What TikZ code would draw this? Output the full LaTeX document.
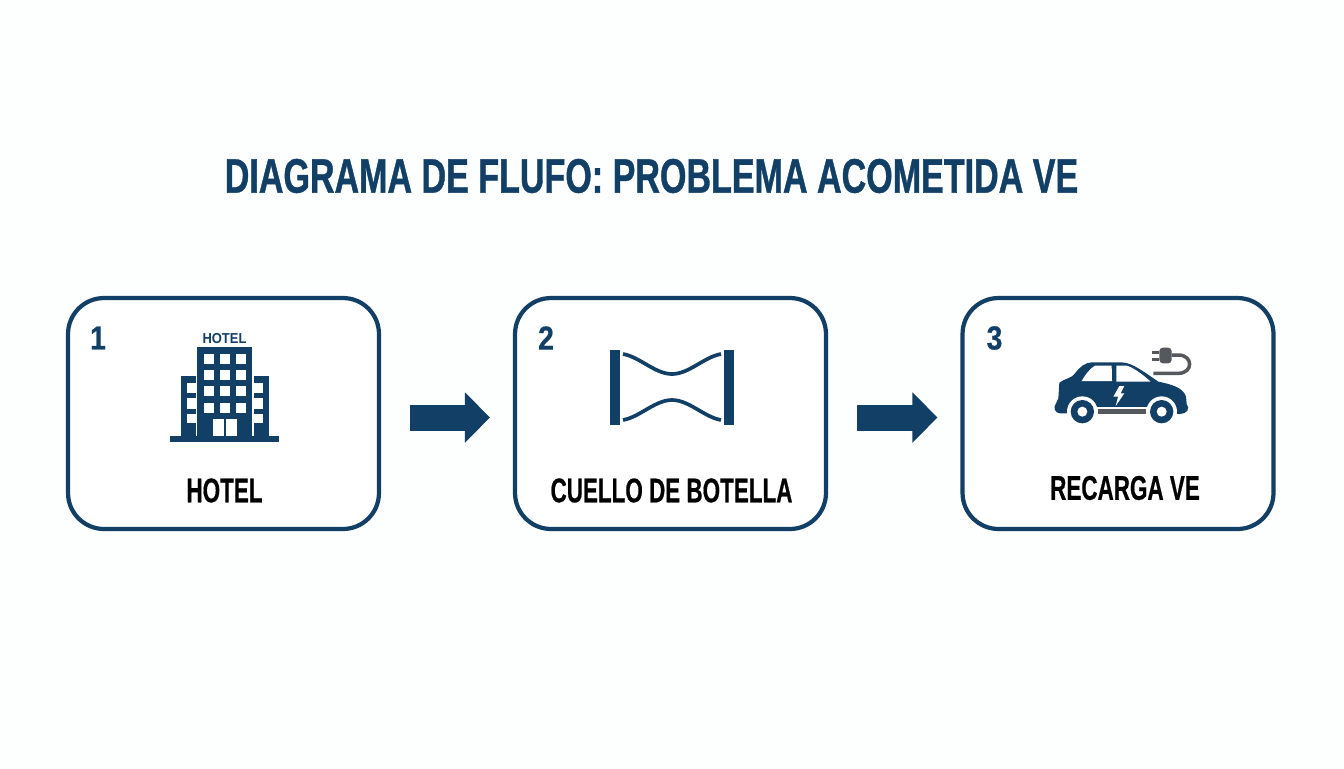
\documentclass[tikz,border=0pt]{standalone}
\usepackage{fontspec}
\usepackage{tikz}
\usetikzlibrary{arrows.meta}
\newfontfamily\condfont[FakeStretch=0.655,FakeBold=0.5]{Liberation Sans}
\newfontfamily\titlefont[FakeStretch=0.705,FakeBold=0.8]{Liberation Sans}
\newfontfamily\numfont[FakeStretch=0.85,FakeBold=0.5]{Liberation Sans}
\newfontfamily\tagfont[FakeStretch=0.9]{Liberation Sans}
\definecolor{navy}{HTML}{123F66}
\definecolor{plug}{HTML}{55585D}
\definecolor{paper}{HTML}{FDFEFE}
\tikzset{
  stepbox/.style={draw=navy,line width=2.4pt,rounded corners=0.72cm,fill=white,
    minimum width=6.22cm,minimum height=4.62cm,inner sep=0pt},
  steptext/.style={inner sep=0pt,font=\condfont\bfseries\fontsize{19.5}{22}\selectfont},
  stepnum/.style={inner sep=0pt,text=navy,font=\numfont\bfseries\fontsize{19}{22}\selectfont},
  flowarrow/.style={navy,line width=0.52cm,
    -{Triangle[length=0.5cm,width=0.98cm]},shorten <=0.58cm,shorten >=0.46cm},
}
\begin{document}
\begin{tikzpicture}[x=0.02cm,y=-0.02cm]
\useasboundingbox[fill=paper] (0,0) rectangle (1344,768);

\node[inner sep=0pt,text=navy,font=\titlefont\bfseries\fontsize{27.5}{30}\selectfont] (title) at (651.5,176) {DIAGRAMA DE FLUFO: PROBLEMA ACOMETIDA VE};

\node[stepbox] (hotel) at (223.5,413.5) {};
\node[stepbox] (cuello) at (670.5,413.5) {};
\node[stepbox] (recarga) at (1118,413.5) {};

\foreach \a/\b in {hotel/cuello,cuello/recarga}
  \draw[flowarrow] ([yshift=-0.08cm]\a.east) -- ([yshift=-0.08cm]\b.west);

\foreach \n/\x/\t in {num1/98/1,num2/546/2,num3/994.5/3}
  \node[stepnum] (\n) at (\x,338) {\t};

\node[steptext] (hotellabel) at (224.5,490.5) {HOTEL};
\node[steptext] (cuellolabel) at (671.5,490.5) {CUELLO DE BOTELLA};
\node[steptext] (recargalabel) at (1125,488) {RECARGA VE};

% hotel
\fill[navy] (170,436) rectangle (279,442);
\fill[navy] (197,347) rectangle (252,436);
\fill[navy] (181,376) rectangle (196,436);
\fill[navy] (254,376) rectangle (269,436);
\foreach \x in {204,220,236}
  \foreach \y in {354,370,386,403}
    \fill[white] (\x,\y) rectangle +(10,9.5);
\foreach \y/\h in {383/10,398/11,414/9}{
  \fill[white] (187,\y) rectangle +(9,\h);
  \fill[white] (254,\y) rectangle +(9,\h);
}
\fill[white] (213,419) rectangle (224,436);
\fill[white] (226,419) rectangle (237,436);
\node[inner sep=0pt,text=navy,font=\tagfont\bfseries\fontsize{8.2}{9}\selectfont] (hoteltag) at (224.5,339) {HOTEL};

% bottleneck
\fill[navy] (610,350) rectangle (620,425);
\fill[navy] (724,350) rectangle (734,425);
\draw[navy,line width=2.1pt] (623,354) .. controls (640,357) and (655,374) .. (672,374)
  .. controls (689,374) and (704,357) .. (721,354);
\draw[navy,line width=2.1pt] (623,420) .. controls (640,417) and (655,400) .. (672,400)
  .. controls (689,400) and (704,417) .. (721,420);

% car
\begin{scope}[shift={(1030,330)},scale=1/3]
\fill[navy] (90,250) .. controls (75,250) and (68,232) .. (78,220) -- (85,205) -- (88,158)
  .. controls (105,145) and (125,145) .. (135,130) .. controls (150,110) and (165,98) .. (185,97)
  -- (270,97) .. controls (300,97) and (320,110) .. (385,155)
  .. controls (420,162) and (460,172) .. (468,200) -- (470,222)
  .. controls (482,235) and (470,252) .. (450,252) -- cycle;
\fill[white] (157,232) rectangle (395,256);
\foreach \x in {157,395}{
  \fill[white] (\x,245) circle (46);
  \fill[navy] (\x,245) circle (35);
  \fill[white] (\x,245) circle (15);
}
\fill[plug] (203,238) rectangle (348,252);
\fill[white] (155,153) .. controls (165,135) and (180,115) .. (195,107) -- (245,107) -- (246,153) -- cycle;
\fill[white] (259,107) -- (290,107) .. controls (310,112) and (340,135) .. (362,155) -- (259,155) -- cycle;
\fill[white] (268,168) -- (283,168) -- (272,190) -- (283,190) -- (257,228) -- (264,200) -- (250,200) -- cycle;
\fill[plug,rounded corners=2pt] (388,53) -- (425,53) -- (425,100) -- (388,100) -- cycle;
\fill[plug] (367,63) rectangle (388,72);
\fill[plug] (367,85) rectangle (388,94);
\draw[plug,line width=2pt] (425,75) -- (445,75) .. controls (490,75) and (490,130) .. (445,130) -- (370,130);
\end{scope}
\end{tikzpicture}
\end{document}
